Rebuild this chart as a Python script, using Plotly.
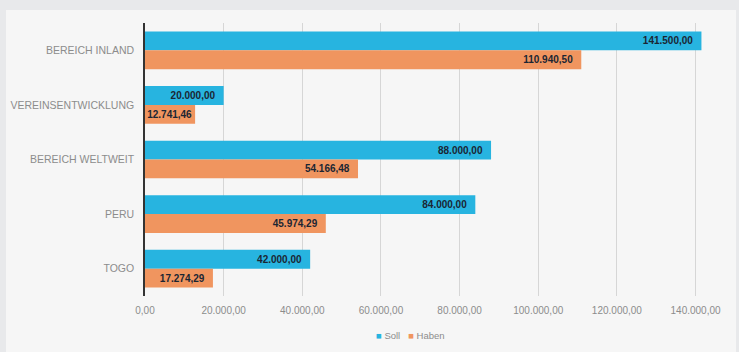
import plotly.graph_objects as go

categories = ["BEREICH INLAND", "VEREINSENTWICKLUNG", "BEREICH WELTWEIT", "PERU", "TOGO"]
soll = [141500.00, 20000.00, 88000.00, 84000.00, 42000.00]
haben = [110940.50, 12741.46, 54166.48, 45974.29, 17274.29]
tick_values = [0, 20000, 40000, 60000, 80000, 100000, 120000, 140000]
series_names = ["Soll", "Haben"]
series_colors = ["#27b4e0", "#f0955f"]

W, H = 739, 352
ml, mr, mt, mb = 145, 12, 23, 56
pw, ph = W - ml - mr, H - mt - mb

def px_x(p):
    return (p - ml) / pw

def px_y(p):
    return (H - mb - p) / ph

label_font = dict(color="#1b2633", size=10, family="Liberation Sans")

fig = go.Figure()
for name, vals, col in zip(series_names, [soll, haben], series_colors):
    templates = ["<b>%{x:,.2f}</b>" + ("\u00a0\u00a0" if v >= 15000 else "") for v in vals]
    fig.add_trace(go.Bar(
        name=name, y=categories, x=vals, orientation="h",
        marker=dict(color=col, line=dict(width=0)),
        texttemplate=templates, textposition="inside", insidetextanchor="end",
        constraintext="none", cliponaxis=False,
        textfont=label_font, showlegend=False,
    ))

legend_text = "\u00a0\u00a0\u00a0".join(
    f'<span style="color:{c}">■</span> {n}' for n, c in zip(series_names, series_colors)
)

fig.update_layout(
    width=W, height=H,
    margin=dict(l=ml, r=mr, t=mt, b=mb, pad=0, autoexpand=False),
    separators=",.",
    barmode="group", bargap=0.31, bargroupgap=0.0,
    paper_bgcolor="#e8e9eb", plot_bgcolor="rgba(0,0,0,0)",
    font=dict(family="Liberation Sans, Arial", size=10, color="#8c8c8c"),
    showlegend=False,
    xaxis=dict(range=[0, 148000], tickvals=tick_values, tickformat=",.2f",
               showgrid=True, gridcolor="#d6d6d6", gridwidth=1, zeroline=False,
               showline=False, ticks="", ticklabelstandoff=7, automargin=False,
               tickfont=dict(size=10, color="#8c8c8c")),
    yaxis=dict(autorange="reversed", showline=True, linecolor="#333333", linewidth=1.5,
               ticks="", showgrid=False, ticklabelstandoff=7, automargin=False,
               tickfont=dict(size=10.5, color="#8c8c8c")),
    shapes=[dict(type="rect", xref="paper", yref="paper", layer="below",
                 x0=px_x(6), x1=px_x(736), y0=px_y(352), y1=px_y(10),
                 fillcolor="#f6f6f6", line=dict(width=0))],
    annotations=[dict(xref="paper", yref="paper", x=px_x(410), y=px_y(335),
                      xanchor="center", yanchor="middle", showarrow=False,
                      text=legend_text, font=dict(size=9.5, color="#8c8c8c"))],
)

fig.write_html("out.html")
